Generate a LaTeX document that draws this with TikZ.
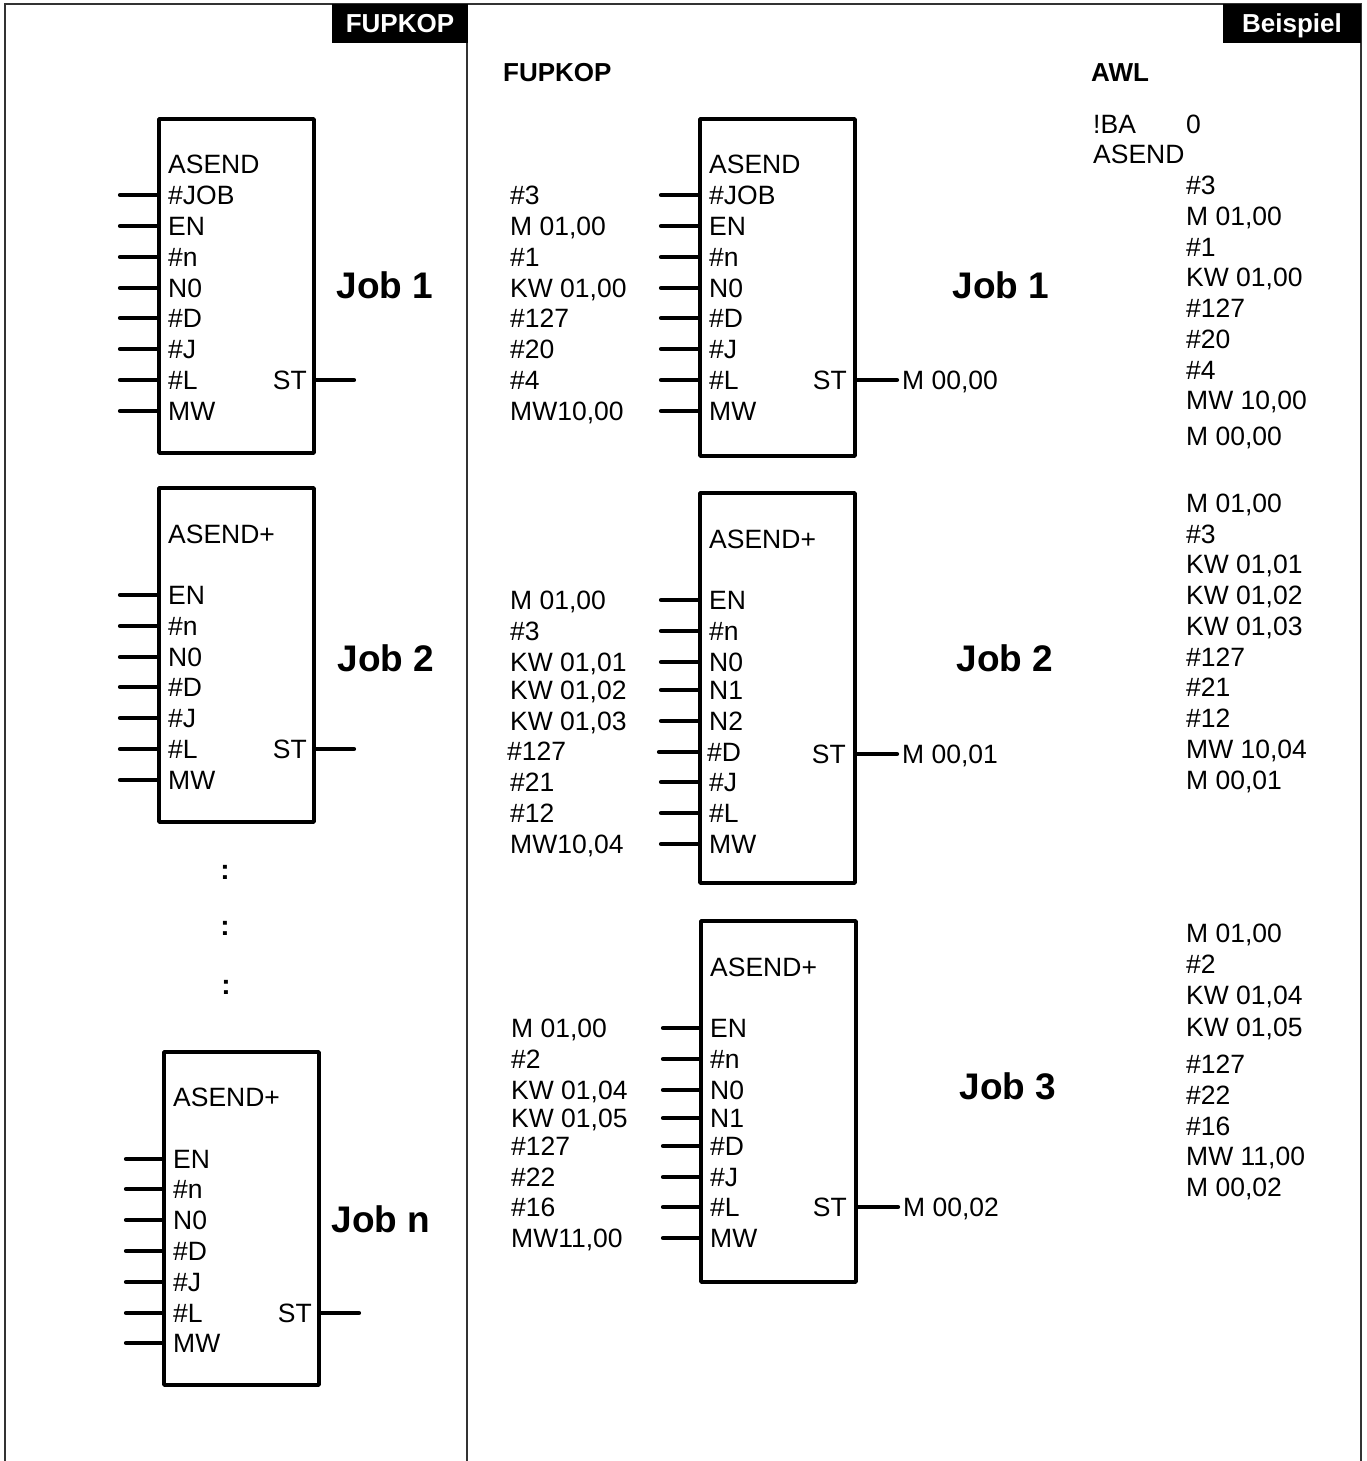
\documentclass[tikz,border=0pt]{standalone}
\usepackage{fontspec}
\setmainfont{Liberation Sans}
\begin{document}
\begin{tikzpicture}[x=1pt,y=-1pt,
  txt/.style={inner sep=0pt, anchor=west, font=\fontsize{26.5}{30}\selectfont, text height=19pt, text depth=0pt},
  rtxt/.style={txt, anchor=east},
  job/.style={inner sep=0pt, anchor=center, font=\bfseries\fontsize{37}{40}\selectfont, text height=26.5pt, text depth=0pt},
  head/.style={inner sep=0pt, anchor=west, font=\bfseries\fontsize{26}{30}\selectfont, text height=18.6pt, text depth=0pt},
  whitehead/.style={inner sep=0pt, anchor=center, text=white, font=\bfseries\fontsize{26}{30}\selectfont, text height=18.6pt, text depth=0pt},
  dots/.style={inner sep=0pt, anchor=center, font=\bfseries\fontsize{28}{30}\selectfont},
  fbox/.style={draw, line width=3.6pt, line join=round, inner sep=0pt, minimum width=155pt},
  pin/.style={line width=4.2pt, line cap=round},
  frame/.style={line width=1.8pt, draw=black!80}
]
\useasboundingbox (0,0) rectangle (1366,1461);

% frame
\draw[frame] (5,1461) -- (5,4) -- (1361,4) -- (1361,1461);
\draw[frame] (467,4) -- (467,1461);
\fill[black] (332,4) rectangle (468,43);
\fill[black] (1223,4) rectangle (1361,43);
\node[whitehead] (h1) at (400,23.5) {FUPKOP};
\node[whitehead] (h2) at (1292,23.5) {Beispiel};
\node[head] (h3) at (503,72) {FUPKOP};
\node[head] (h4) at (1091,72) {AWL};

% ---------------- left column ----------------
\node[fbox, minimum height=334pt] (L1) at (236.5,286) {};
\node[txt] (L1title) at (168,164) {ASEND};
\foreach \yy/\lab in {195/{\#JOB},226/{EN},257/{\#n},288/{N0},318/{\#D},349/{\#J},380/{\#L},411/{MW}} {
  \node[txt] (L1t\yy) at (168,\yy) {\lab};
  \coordinate (L1e\yy) at (120,\yy);
  \draw[pin] (L1.west |- L1t\yy) -- (L1e\yy);
}
\node[rtxt] (L1st) at (307,380) {ST};
\coordinate (L1out) at (354,380);
\draw[pin] (L1.east |- L1st) -- (L1out);
\node[job] (L1job) at (385,285) {Job 1};

\node[fbox, minimum height=334pt] (L2) at (236.5,655) {};
\node[txt] (L2title) at (168,534) {ASEND+};
\foreach \yy/\lab in {595/{EN},626/{\#n},657/{N0},687/{\#D},718/{\#J},749/{\#L},780/{MW}} {
  \node[txt] (L2t\yy) at (168,\yy) {\lab};
  \coordinate (L2e\yy) at (120,\yy);
  \draw[pin] (L2.west |- L2t\yy) -- (L2e\yy);
}
\node[rtxt] (L2st) at (307,749) {ST};
\coordinate (L2out) at (354,749);
\draw[pin] (L2.east |- L2st) -- (L2out);
\node[job] (L2job) at (386,658) {Job 2};

\node[dots] (d1) at (225,872) {:};
\node[dots] (d2) at (225,928) {:};
\node[dots] (d3) at (226,987) {:};

\node[fbox, minimum height=333pt] (L3) at (241.5,1218.5) {};
\node[txt] (L3title) at (173,1097) {ASEND+};
\foreach \yy/\lab in {1159/{EN},1189/{\#n},1220/{N0},1251/{\#D},1282/{\#J},1313/{\#L},1343/{MW}} {
  \node[txt] (L3t\yy) at (173,\yy) {\lab};
  \coordinate (L3e\yy) at (126,\yy);
  \draw[pin] (L3.west |- L3t\yy) -- (L3e\yy);
}
\node[rtxt] (L3st) at (312,1313) {ST};
\coordinate (L3out) at (359,1313);
\draw[pin] (L3.east |- L3st) -- (L3out);
\node[job] (L3job) at (381,1219) {Job n};

% ---------------- middle column ----------------
\node[fbox, minimum height=337pt] (M1) at (777.5,287.5) {};
\node[txt] (M1title) at (709,164) {ASEND};
\foreach \yy/\a/\lab in {195/{\#3}/{\#JOB},226/{M 01,00}/{EN},257/{\#1}/{\#n},288/{KW 01,00}/{N0},318/{\#127}/{\#D},349/{\#20}/{\#J},380/{\#4}/{\#L},411/{MW10,00}/{MW}} {
  \node[txt] (M1t\yy) at (709,\yy) {\lab};
  \node[txt] (M1a\yy) at (510,\yy) {\a};
  \coordinate (M1e\yy) at (661,\yy);
  \draw[pin] (M1.west |- M1t\yy) -- (M1e\yy);
}
\node[rtxt] (M1st) at (847,380) {ST};
\node[txt] (M1out) at (902,380) {M 00,00};
\draw[pin, shorten >=5pt] (M1.east |- M1st) -- (M1out.west);
\node[job] (M1job) at (1001,285) {Job 1};

\node[fbox, minimum height=390pt] (M2) at (777.5,688) {};
\node[txt] (M2title) at (709,539) {ASEND+};
\foreach \yy/\a/\lab in {600/{M 01,00}/{EN},631/{\#3}/{\#n},662/{KW 01,01}/{N0},690/{KW 01,02}/{N1},721/{KW 01,03}/{N2},782/{\#21}/{\#J},813/{\#12}/{\#L},844/{MW10,04}/{MW}} {
  \node[txt] (M2t\yy) at (709,\yy) {\lab};
  \node[txt] (M2a\yy) at (510,\yy) {\a};
  \coordinate (M2e\yy) at (661,\yy);
  \draw[pin] (M2.west |- M2t\yy) -- (M2e\yy);
}
\node[txt] (M2t752) at (707,752) {\#D};
\node[txt] (M2a752) at (507,751) {\#127};
\coordinate (M2e752) at (659,752);
\draw[pin] (M2.west |- M2t752) -- (M2e752);
\node[rtxt] (M2st) at (846,754) {ST};
\node[txt] (M2out) at (902,754) {M 00,01};
\draw[pin, shorten >=5pt] (M2.east |- M2st) -- (M2out.west);
\node[job] (M2job) at (1005,658) {Job 2};

\node[fbox, minimum height=361pt] (M3) at (778.5,1101.5) {};
\node[txt] (M3title) at (710,967) {ASEND+};
\foreach \yy/\a/\lab in {1028/{M 01,00}/{EN},1059/{\#2}/{\#n},1090/{KW 01,04}/{N0},1118/{KW 01,05}/{N1},1146/{\#127}/{\#D},1177/{\#22}/{\#J},1207/{\#16}/{\#L},1238/{MW11,00}/{MW}} {
  \node[txt] (M3t\yy) at (710,\yy) {\lab};
  \node[txt] (M3a\yy) at (511,\yy) {\a};
  \coordinate (M3e\yy) at (663,\yy);
  \draw[pin] (M3.west |- M3t\yy) -- (M3e\yy);
}
\node[rtxt] (M3st) at (847,1207) {ST};
\node[txt] (M3out) at (903,1207) {M 00,02};
\draw[pin, shorten >=5pt] (M3.east |- M3st) -- (M3out.west);
\node[job] (M3job) at (1008,1086) {Job 3};

% ---------------- AWL column ----------------
\node[txt] (aba) at (1093,124) {!BA};
\node[txt] (aba0) at (1186,124) {0};
\node[txt] (aasend) at (1093,154) {ASEND};
\foreach \yy/\t in {185/{\#3},216/{M 01,00},247/{\#1},277/{KW 01,00},308/{\#127},339/{\#20},370/{\#4},400/{MW 10,00},436/{M 00,00},
  503/{M 01,00},534/{\#3},564/{KW 01,01},595/{KW 01,02},626/{KW 01,03},657/{\#127},687/{\#21},718/{\#12},749/{MW 10,04},780/{M 00,01},
  933/{M 01,00},964/{\#2},995/{KW 01,04},1027/{KW 01,05},1064/{\#127},1095/{\#22},1126/{\#16},1156/{MW 11,00},1187/{M 00,02}} {
  \node[txt] (awl\yy) at (1186,\yy) {\t};
}
\end{tikzpicture}
\end{document}
